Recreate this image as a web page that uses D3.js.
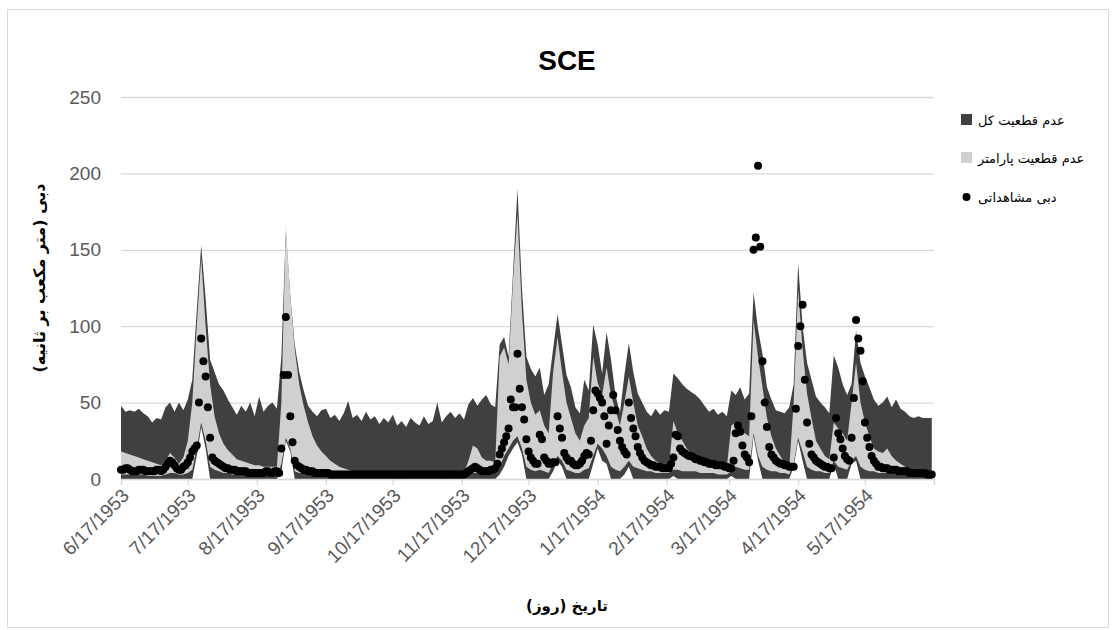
<!DOCTYPE html>
<html>
<head>
<meta charset="utf-8">
<script src="https://cdn.jsdelivr.net/npm/d3@7"></script>
<style>
body { margin: 0; background: #fff; }
svg text { font-family: "Liberation Sans", Arial, sans-serif; }
</style>
</head>
<body>
<div id="sce-chart"></div>
<script>
'use strict';

var chartTitle = "SCE";
var startDate = "6/17/1953";
var endDate = "6/17/1954";
var tickLabels = ["6/17/1953", "7/17/1953", "8/17/1953", "9/17/1953", "10/17/1953", "11/17/1953",
	"12/17/1953", "1/17/1954", "2/17/1954", "3/17/1954", "4/17/1954", "5/17/1954", "6/17/1954"];
var yTicks = [0, 50, 100, 150, 200, 250];
var seriesNames = ["عدم قطعیت کل", "عدم قطعیت پارامتر", "دبی مشاهداتی"];

// band values, one every 2 days from 6/17/1953
var bandStep = 2;
var totalUpper = [
	48,44,45,44,46,43,41,37,40,39,
	47,50,44,50,45,52,65,110,153,118,
	78,70,62,58,52,47,42,48,44,50,
	41,54,44,48,50,46,80,162,120,88,
	70,58,48,44,41,45,46,40,42,38,
	43,51,40,42,38,44,39,41,36,40,
	37,42,35,38,34,40,37,35,41,36,
	38,50,37,41,44,40,43,39,49,53,
	48,52,55,49,47,88,93,80,135,190,
	125,80,72,67,73,55,62,85,108,88,
	68,60,47,43,65,58,101,88,69,96,
	78,55,43,68,89,70,56,50,44,41,
	46,42,45,44,69,66,62,59,57,55,
	52,48,44,46,42,44,41,58,55,60,
	52,56,122,98,82,60,52,45,44,43,
	47,62,141,100,76,65,54,50,47,43,
	81,73,62,55,62,97,76,67,60,52,
	48,50,54,47,52,46,44,41,40,41,
	40,40,40];
var totalLower = [
	0,0,0,0,0,0,0,0,0,0,
	0,0,0,0,0,0,0,15,34,20,
	0,0,0,0,0,0,0,0,0,0,
	0,0,0,0,0,0,5,25,18,0,
	0,0,0,0,0,0,0,0,0,0,
	0,0,0,0,0,0,0,0,0,0,
	0,0,0,0,0,0,0,0,0,0,
	0,0,0,0,0,0,0,0,0,0,
	0,0,0,0,0,3,8,15,20,24,
	16,0,0,0,0,0,0,5,12,8,
	0,0,0,0,0,0,10,20,12,10,
	0,0,0,3,8,0,0,0,0,0,
	0,0,0,0,2,0,0,0,0,0,
	0,0,0,0,0,0,0,2,0,0,
	0,0,28,12,0,0,0,0,0,0,
	0,8,25,12,0,0,0,0,0,0,
	10,0,0,0,10,12,0,0,0,0,
	0,0,0,0,0,0,0,0,0,0,
	0,0,0];
var paramUpper = [
	18,17,16,15,14,13,12,11,10,9,
	12,17,14,10,14,25,50,100,145,100,
	62,41,30,23,19,16,13,12,11,10,
	9,9,8,8,8,8,50,167,120,85,
	62,48,37,28,22,18,15,12,10,8,
	7,6,5,4,4,4,4,3,3,3,
	3,3,3,3,3,3,3,3,3,3,
	3,3,3,3,3,3,3,4,12,22,
	20,14,12,12,11,80,86,75,130,174,
	110,65,50,42,45,35,30,70,93,70,
	50,40,30,25,35,40,80,63,55,73,
	55,45,35,50,67,50,35,28,20,15,
	12,10,9,8,38,30,25,20,17,15,
	13,12,11,10,9,9,8,35,37,32,
	30,28,104,80,60,40,28,20,15,10,
	7,50,124,85,56,40,25,20,15,13,
	37,33,30,25,50,76,50,37,28,20,
	18,17,20,15,12,10,8,6,5,5,
	5,5,5];
var paramLower = [
	3,3,3,3,3,3,2,2,2,2,
	3,4,4,3,3,4,6,20,37,25,
	8,6,5,4,4,3,3,3,3,3,
	3,3,2,2,2,2,10,27,20,5,
	4,4,3,3,3,3,3,3,3,3,
	3,3,2,2,2,2,2,2,2,2,
	2,2,2,2,2,2,2,2,2,2,
	2,2,2,2,2,2,2,2,3,4,
	4,4,4,4,4,8,15,20,25,28,
	20,8,6,5,6,5,4,10,15,12,
	6,5,4,4,6,7,15,23,20,15,
	8,6,5,8,12,8,7,6,5,5,
	4,4,4,4,6,6,5,5,5,5,
	4,4,4,4,3,3,3,5,8,7,
	6,6,30,15,8,6,5,5,4,4,
	3,10,27,18,8,6,5,5,4,4,
	12,8,7,6,12,15,8,6,5,5,
	4,4,4,4,3,3,3,3,2,2,
	2,2,2];

// observed discharge, daily from 6/17/1953
var observed = [
	6,6,7,7,6,5,5,5,6,6,
	6,5,5,5,5,5,6,6,5,6,
	8,10,12,11,9,7,6,6,8,9,
	11,14,18,20,22,50,92,77,67,47,
	27,14,12,11,10,9,8,7,7,6,
	6,6,5,5,5,5,5,4,4,4,
	4,4,4,4,4,5,5,4,4,5,
	5,4,20,68,106,68,41,24,12,9,
	8,7,6,6,5,5,5,4,4,4,
	4,4,4,4,3,3,3,3,3,3,
	3,3,3,3,3,3,3,3,3,3,
	3,3,3,3,3,3,3,3,3,3,
	3,3,3,3,3,3,3,3,3,3,
	3,3,3,3,3,3,3,3,3,3,
	3,3,3,3,3,3,3,3,3,3,
	3,3,3,3,3,4,5,6,7,8,
	7,6,5,5,5,5,6,6,7,10,
	16,20,24,28,33,52,47,47,82,59,
	47,39,26,18,14,12,10,10,29,26,
	14,12,10,10,11,11,41,33,27,17,
	14,12,12,10,9,9,10,12,15,17,
	16,25,45,58,56,53,50,41,23,35,
	45,55,45,32,25,21,18,16,50,40,
	33,28,21,17,14,12,11,10,9,9,
	8,8,8,7,7,7,7,10,14,29,
	28,20,18,17,16,15,15,14,13,13,
	12,12,11,11,10,10,10,9,9,9,
	9,8,8,7,7,12,30,35,31,22,
	16,14,11,41,150,158,205,152,77,50,
	34,21,16,14,12,11,10,10,9,9,
	8,8,8,46,87,100,114,65,37,23,
	16,14,12,11,10,9,8,8,7,7,
	14,40,30,26,20,15,13,12,27,53,
	104,92,84,64,37,27,21,15,12,10,
	8,8,7,7,7,6,6,6,6,5,
	5,5,5,5,4,4,4,4,4,4,
	4,4,3,3,3];

var parseDate = d3.timeParse("%m/%d/%Y");
var start = parseDate(startDate);

var width = 1116, height = 630;
var plotLeft = 121, plotRight = 934, plotTop = 97, plotBottom = 479;
var darkFill = "#404040", lightFill = "#d0d0d0", gridColor = "#d9d9d9", labelColor = "#595959";

var svg = d3.select("#sce-chart").append("svg")
	.attr("width", width)
	.attr("height", height);

svg.append("rect")
	.attr("x", 7.5).attr("y", 9.5)
	.attr("width", 1101).attr("height", 618)
	.attr("fill", "#fff")
	.attr("stroke", gridColor);

var x = d3.scaleTime()
	.domain([start, parseDate(endDate)])
	.range([plotLeft, plotRight]);
var y = d3.scaleLinear()
	.domain([0, 250])
	.range([plotBottom, plotTop]);

// gridlines and y labels
var yAxis = d3.axisLeft(y)
	.tickValues(yTicks)
	.tickSize(-(plotRight - plotLeft))
	.tickPadding(20);
var gy = svg.append("g")
	.attr("transform", "translate(" + plotLeft + ",0)")
	.call(yAxis);
gy.select(".domain").remove();
gy.selectAll(".tick line").attr("stroke", gridColor).attr("stroke-width", 1.3);
gy.selectAll(".tick text")
	.attr("fill", labelColor)
	.style("font-size", "19px");

var bands = totalUpper.map(function(d, i){
	return {
		date: d3.timeDay.offset(start, i * bandStep),
		tu: d, tl: totalLower[i], pu: paramUpper[i], pl: paramLower[i]
	};
});

var totalArea = d3.area()
	.x(function(d){ return x(d.date); })
	.y0(function(d){ return y(d.tl); })
	.y1(function(d){ return y(d.tu); });
var paramArea = d3.area()
	.x(function(d){ return x(d.date); })
	.y0(function(d){ return y(d.pl); })
	.y1(function(d){ return y(d.pu); });

svg.append("path")
	.datum(bands)
	.attr("d", totalArea)
	.attr("fill", darkFill);
svg.append("path")
	.datum(bands)
	.attr("d", paramArea)
	.attr("fill", lightFill);

// x axis
var tickDates = tickLabels.map(parseDate);
var xAxis = d3.axisBottom(x)
	.tickValues(tickDates)
	.tickSize(6)
	.tickFormat(function(d, i){ return i < tickLabels.length - 1 ? tickLabels[i] : ""; });
var gx = svg.append("g")
	.attr("transform", "translate(0," + plotBottom + ")")
	.call(xAxis);
gx.select(".domain").attr("stroke", gridColor).attr("stroke-width", 1.3);
gx.selectAll(".tick line").attr("stroke", gridColor).attr("stroke-width", 1.3);
gx.selectAll(".tick text")
	.attr("fill", labelColor)
	.style("font-size", "19px")
	.attr("text-anchor", "end")
	.attr("transform", "translate(4,13) rotate(-45)")
	.attr("x", 0)
	.attr("y", 0)
	.attr("dy", "0.35em");

svg.append("g")
	.selectAll("circle")
	.data(observed)
	.enter().append("circle")
	.attr("cx", function(d, i){ return x(d3.timeDay.offset(start, i)); })
	.attr("cy", function(d){ return y(d); })
	.attr("r", 4)
	.attr("fill", "#000");

// titles
svg.append("text")
	.attr("x", 567).attr("y", 70)
	.attr("text-anchor", "middle")
	.style("font-size", "28px")
	.style("font-weight", "bold")
	.attr("fill", "#000")
	.text(chartTitle);

svg.append("text")
	.attr("x", 567).attr("y", 611)
	.attr("text-anchor", "middle")
	.attr("direction", "rtl")
	.style("font-family", "'DejaVu Sans', sans-serif")
	.style("font-size", "15px")
	.style("font-weight", "bold")
	.attr("fill", "#000")
	.text("تاریخ (روز)");

svg.append("text")
	.attr("transform", "translate(45,278) rotate(-90)")
	.attr("text-anchor", "middle")
	.attr("direction", "rtl")
	.style("font-family", "'DejaVu Sans', sans-serif")
	.style("font-size", "16px")
	.style("font-weight", "bold")
	.attr("fill", "#000")
	.text("دبی (متر مکعب بر ثانیه)");

// legend
var legend = svg.append("g").attr("transform", "translate(961,0)");
var legendY = [120, 158, 197];
legend.append("rect").attr("x", 0).attr("y", legendY[0] - 6).attr("width", 11).attr("height", 11).attr("fill", darkFill);
legend.append("rect").attr("x", 0).attr("y", legendY[1] - 6).attr("width", 11).attr("height", 11).attr("fill", lightFill);
legend.append("circle").attr("cx", 5.5).attr("cy", legendY[2]).attr("r", 4).attr("fill", "#000");
legend.selectAll(".legend-label")
	.data(seriesNames)
	.enter().append("text")
	.attr("class", "legend-label")
	.attr("x", 17)
	.attr("y", function(d, i){ return legendY[i]; })
	.attr("dy", "0.35em")
	.attr("direction", "rtl")
	.attr("text-anchor", "end")
	.style("font-family", "'DejaVu Sans', sans-serif")
	.style("font-size", "13px")
	.attr("fill", "#000")
	.text(function(d){ return d; });
</script>
</body>
</html>
